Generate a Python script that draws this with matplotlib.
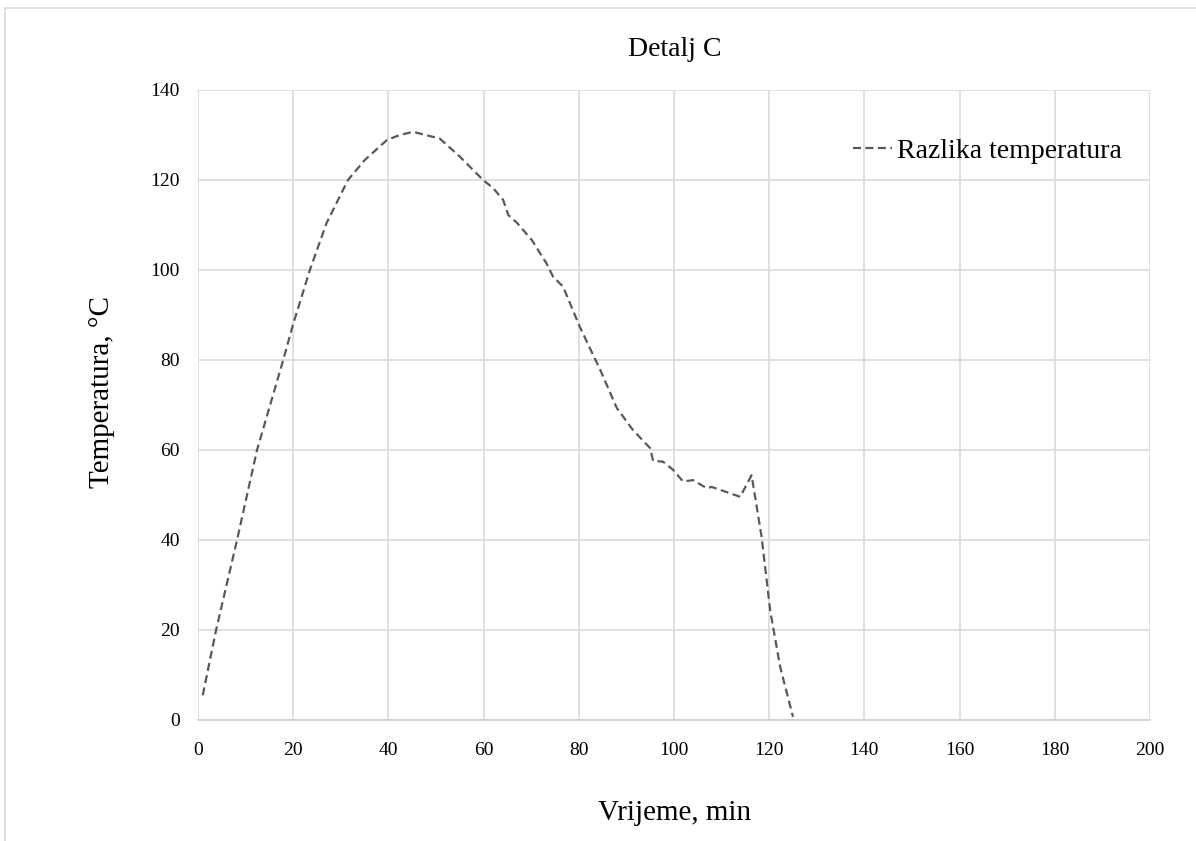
import matplotlib.pyplot as plt
from matplotlib.lines import Line2D

# values
vrijeme = [1, 3.8, 8.2, 12.4, 17.9, 20, 23.5, 27, 31.5, 35, 39.7, 42.4, 45.2, 50.8,
           55, 59.9, 62, 64.1, 65.2, 67, 70.1, 73.2, 74.6, 76.7, 80.2, 84.5, 88,
           91.4, 95, 95.6, 97.7, 99.8, 101.9, 104, 106.9, 107.9, 113.9, 116.3,
           118.4, 120.2, 122.3, 125]
razlika = [5.5, 20, 40, 60, 80, 88, 100, 110.4, 120, 124.4, 128.9, 130, 130.7, 129.2,
           125.2, 120, 118.2, 115.6, 112.2, 110.5, 106.7, 101.5, 98.5, 96.3, 87.4, 77.8,
           69.3, 64.4, 60.4, 57.6, 57.4, 55.6, 53, 53.3, 51.5, 51.8, 49.6, 54.4,
           40.7, 24.4, 11.8, 0.7]

x_ticks = list(range(0, 201, 20))
y_ticks = list(range(0, 141, 20))

plt.rcParams['font.family'] = ['Liberation Serif', 'DejaVu Serif']

fig = plt.figure(figsize=(11.96, 8.41), dpi=100)
ax = fig.add_axes([198 / 1196, 1 - 720 / 841, (1150 - 198) / 1196, (720 - 90) / 841])

ax.plot(vrijeme, razlika, color='#595959', lw=1.6, dashes=(3.6, 2.0),
        label='Razlika temperatura')

ax.set_xlim(0, 200)
ax.set_ylim(0, 140)
ax.set_xticks(x_ticks)
ax.set_yticks(y_ticks)
ax.grid(True, color='#d9d9d9', lw=1.2)
ax.set_axisbelow(True)
for s in ['top', 'right', 'left']:
    ax.spines[s].set_visible(False)
ax.spines['bottom'].set_color('#d0d0d0')
ax.spines['bottom'].set_linewidth(1.2)
ax.tick_params(length=0, labelsize=14, colors='black')
ax.tick_params(axis='x', pad=16)
ax.tick_params(axis='y', pad=13)

fig.text(675 / 1196, 1 - 50 / 841, 'Detalj C', ha='center', va='center', fontsize=20)
fig.text(675 / 1196, 1 - 813 / 841, 'Vrijeme, min', ha='center', va='center', fontsize=21)
fig.text(102 / 1196, 1 - 392 / 841, 'Temperatura, °C', ha='center', va='center',
         rotation=90, fontsize=21)

fig.legend(loc='center left', bbox_to_anchor=(853 / 1196, 1 - 151 / 841),
           frameon=False, fontsize=20, handlelength=1.4, handletextpad=0.2,
           borderpad=0, borderaxespad=0)

# outer chart border (top and left)
fig.add_artist(Line2D([5 / 1196, 1], [1 - 8 / 841, 1 - 8 / 841], color='#d9d9d9', lw=1.2))
fig.add_artist(Line2D([5 / 1196, 5 / 1196], [0, 1 - 8 / 841], color='#d9d9d9', lw=1.2))

fig.savefig('out.png', dpi=100)
